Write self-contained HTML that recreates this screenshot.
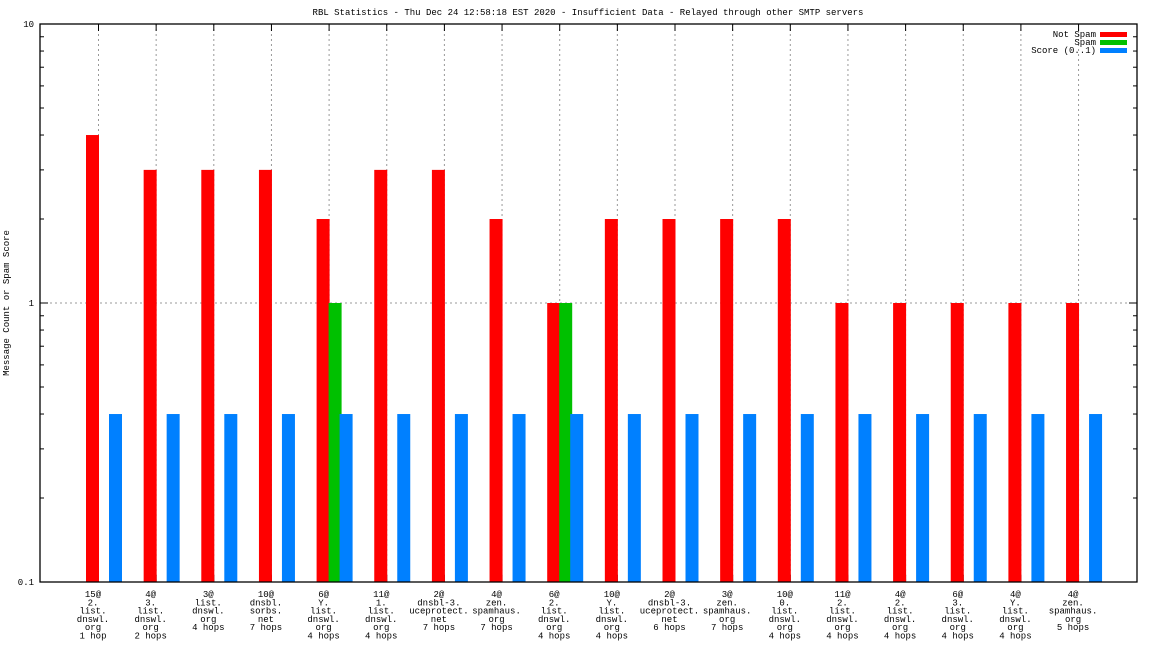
<!DOCTYPE html>
<html><head><meta charset="utf-8"><style>
body{margin:0;background:#fff}
text{font-family:"Liberation Mono",monospace;font-size:9px;fill:#000}
</style></head><body>
<svg id="chart" width="1152" height="648" xmlns="http://www.w3.org/2000/svg">
<text x="588" y="15" text-anchor="middle">RBL Statistics - Thu Dec 24 12:58:18 EST 2020 - Insufficient Data - Relayed through other SMTP servers</text>
<text transform="translate(9,303) rotate(-90)" text-anchor="middle">Message Count or Spam Score</text>
<g id="grid"></g><g id="bars"></g><g id="labels"></g>
<rect x="40" y="24" width="1097" height="558" fill="none" stroke="#000" stroke-width="1.3"/>
<g>
<text x="1096" y="37" text-anchor="end">Not Spam</text><rect x="1100" y="32" width="27" height="5" fill="#ff0000"/>
<text x="1096" y="45" text-anchor="end">Spam</text><rect x="1100" y="40" width="27" height="5" fill="#00c000"/>
<text x="1096" y="53" text-anchor="end">Score (0..1)</text><rect x="1100" y="48" width="27" height="5" fill="#0080ff"/>
</g>
</svg>
<script>
const categories=[["15@","2.","list.","dnswl.","org","1 hop"],["4@","3.","list.","dnswl.","org","2 hops"],["3@","list.","dnswl.","org","4 hops"],["10@","dnsbl.","sorbs.","net","7 hops"],["6@","Y.","list.","dnswl.","org","4 hops"],["11@","1.","list.","dnswl.","org","4 hops"],["2@","dnsbl-3.","uceprotect.","net","7 hops"],["4@","zen.","spamhaus.","org","7 hops"],["6@","2.","list.","dnswl.","org","4 hops"],["10@","Y.","list.","dnswl.","org","4 hops"],["2@","dnsbl-3.","uceprotect.","net","6 hops"],["3@","zen.","spamhaus.","org","7 hops"],["10@","0.","list.","dnswl.","org","4 hops"],["11@","2.","list.","dnswl.","org","4 hops"],["4@","2.","list.","dnswl.","org","4 hops"],["6@","3.","list.","dnswl.","org","4 hops"],["4@","Y.","list.","dnswl.","org","4 hops"],["4@","zen.","spamhaus.","org","5 hops"]];
const notSpam=[4,3,3,3,2,3,3,2,1,2,2,2,2,1,1,1,1,1];
const spam=[0,0,0,0,1,0,0,0,1,0,0,0,0,0,0,0,0,0];
const score=[0.4,0.4,0.4,0.4,0.4,0.4,0.4,0.4,0.4,0.4,0.4,0.4,0.4,0.4,0.4,0.4,0.4,0.4];
const yTicks=[0.1,1,10];
const yTickLabels=["0.1","1","10"];
const NS="http://www.w3.org/2000/svg";
const L=40,R=1137,T=24,B=582;
const y=v=>B-(Math.log10(v)+1)*(B-T)/2;
const x=i=>93+i*57.65;
function mk(tag,attrs,parent){const e=document.createElementNS(NS,tag);for(const k in attrs)e.setAttribute(k,attrs[k]);document.getElementById(parent).appendChild(e);return e;}
yTicks.forEach((v,i)=>{
 const t=mk('text',{x:34,y:y(v)+3,'text-anchor':'end'},'labels');t.textContent=yTickLabels[i];
 
 
 if(i>0&&i<yTicks.length-1){const g=mk('line',{x1:L,x2:R,y1:y(v),y2:y(v),stroke:'#999','stroke-dasharray':'2,3'},'grid');
 
 }
 if(i<yTicks.length-1)for(let m=2;m<=9;m++){const vv=v*m;
  mk('line',{x1:L,x2:L+4,y1:y(vv),y2:y(vv),stroke:'#000'},'grid');
  mk('line',{x1:R-4,x2:R,y1:y(vv),y2:y(vv),stroke:'#000'},'grid');}
 mk('line',{x1:L,x2:L+8,y1:y(v),y2:y(v),stroke:'#000'},'grid');
 mk('line',{x1:R-8,x2:R,y1:y(v),y2:y(v),stroke:'#000'},'grid');
});
categories.forEach((c,i)=>{
 const cx=x(i);
 const g=mk('line',{x1:cx+5.5,x2:cx+5.5,y1:T,y2:B,stroke:'#999','stroke-dasharray':'2,3'},'grid');
 
 
 mk('line',{x1:cx+5.5,x2:cx+5.5,y1:T,y2:T+7,stroke:'#000'},'grid');
 mk('line',{x1:cx+5.5,x2:cx+5.5,y1:B-7,y2:B,stroke:'#000'},'grid');
 const series=[[notSpam[i],'#ff0000',-7,'bar-not-spam'],[spam[i],'#00c000',5,'bar-spam'],[score[i],'#0080ff',16,'bar-score']];
 series.forEach(s=>{if(s[0]>0.1){const r=mk('rect',{x:cx+s[2],y:y(s[0]),width:13,height:B-y(s[0]),fill:s[1]},'bars');
  
  }});
 c.forEach((ln,j)=>{const t=mk('text',{x:cx,y:597+j*8.3,'text-anchor':'middle'},'labels');t.textContent=ln;
  
  });
});
</script>
</body></html>
